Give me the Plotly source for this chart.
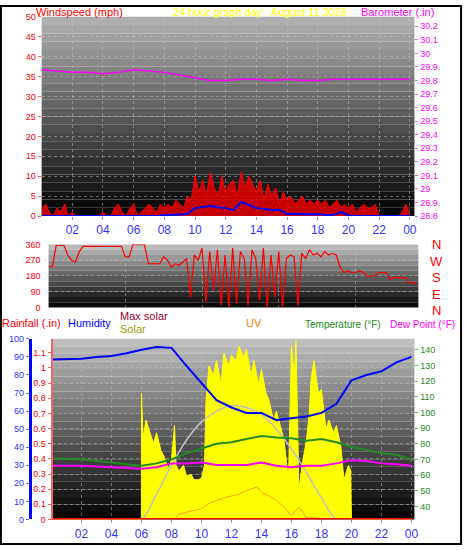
import plotly.graph_objects as go

# ---------------- data ----------------
q_hours = [i / 4 for i in range(97)]
wind_gust = [2,3,1,0, 2,1,3,0, 1,0,0,0, 0,0,0,0, 1,0,0,2, 3,1,0,2, 3,0,1,2, 3,2,1,3,
             2,3,2,4, 3,2,5,4, 10,6,9,5, 11,7,5,10, 6,8,9,5, 11,7,10,8, 6,9,4,8, 5,7,3,6,
             4,5,3,4, 5,3,4,3, 4,3,4,2, 3,4,2,3, 2,3,1,2, 3,2,2,3, 0,0,0,0, 0,0,1,3, 0]
wind_dir = [235,235,355,355, 355,300,270,260, 320,350,350,350, 350,350,350,350,
            350,350,350,350, 290,290,360,360, 360,360,250,250, 250,250,290,270,
            230,250,240,260, 280,60,300,270, 340,30,320,100, 330,10,300,0,
            340,20,320,280, 10,330,280,40, 340,0,300,60, 320,0,280,300,
            290,10,310,280, 330,300,310,290, 320,300,310,300, 230,200,210,200,
            200,210,200,180, 180,180,200,200, 200,160,170,170, 170,170,140,140, 140]

h_hours = [i / 2 for i in range(49)]
wind_avg = [0,0,0,0,0,0,0,0,0,0,0,0,0,0,0,0,0.2,0.3,0.3,0.5,2,2.3,2.5,2.2,2,1.5,3.5,2.8,
            2,1.8,1.5,1.6,0.5,0.6,0.5,0.4,0.5,0.3,0.3,1,0.2,0,0,0,0,0,0,0,0]

hours = list(range(25))
barometer = [29.88,29.87,29.86,29.86,29.85,29.86,29.88,29.87,29.86,29.84,29.82,29.80,29.80,
             29.81,29.81,29.80,29.81,29.80,29.80,29.81,29.81,29.81,29.81,29.81,29.81]
humidity = [88.5,88.8,89,90,90.5,92,94,95.5,95,85,75.5,66,62,59,59,55,56,57,59,64,77,80,82,87,90]
temperature = [70.8,70.4,70,69,68,67,66,67.5,70,74,77,80,81,83,85,84,83.5,82,83,81,78,76,74,73,70]
dew_point = [66,66,66,65.5,65,64.5,64,65,67.5,67.5,68,66.5,66.5,66.5,68,66,65,66,66,67.5,69.5,69,67.5,67,66]
max_solar = [0,0,0,0,0,0,0,14,30,44,54,60,63,62,58,50,39,26,12,0,0,0,0,0,0]
rainfall = [0]*25

solar_hours = [0,5.99,6.0,6.1,6.3,6.5,6.8,7.0,7.3,7.5,7.8,8.0,8.2,8.3,8.5,8.8,9.0,9.3,9.5,9.8,10.0,10.2,10.3,
               10.5,10.8,11.0,11.3,11.5,11.8,12.0,12.3,12.5,12.8,13.0,13.3,13.5,13.8,14.0,14.3,14.5,
               14.8,15.0,15.3,15.5,15.7,15.8,16.0,16.2,16.3,16.5,16.7,17.0,17.2,17.3,17.5,17.8,18.0,
               18.3,18.5,18.8,19.0,19.3,19.5,19.8,19.95,20.0,24]
solar = [0,0,70,45,55,50,42,48,38,35,28,33,52,30,27,30,24,25,22,22,23,30,66,
         85,80,88,75,92,85,91,88,96,90,94,80,88,75,83,70,66,
         55,60,50,44,30,22,96,80,99,16,30,44,60,77,88,70,72,
         50,55,48,52,40,22,30,27,0,0]
uv_hours = [8.2,8.5,9.0,9.5,10.0,10.5,11.0,11.5,12.0,12.5,13.0,13.4,13.7,14.0,14.5,15.0,15.5,16.0,16.5,17.0,17.5,18.0]
uv = [0,3,4,5,6,9,10.5,12,13,14,16,17,18,15,13,10.5,7,2,7,1,1,0]

tick_vals = list(range(2, 25, 2))
tick_text = ["02","04","06","08","10","12","14","16","18","20","22","00"]

# ---------------- figure ----------------
fig = go.Figure()
RED = "#ff0000"
fig.add_trace(go.Scatter(x=q_hours, y=wind_gust, mode="lines", line=dict(color=RED, width=1),
                         fill="tozeroy", fillcolor="rgba(230,0,0,0.85)", xaxis="x", yaxis="y"))
fig.add_trace(go.Scatter(x=h_hours, y=wind_avg, mode="lines", line=dict(color="#0000ff", width=2),
                         xaxis="x", yaxis="y"))
fig.add_trace(go.Scatter(x=hours, y=barometer, mode="lines", line=dict(color="#ff00ff", width=1.5),
                         xaxis="x", yaxis="y2"))
fig.add_trace(go.Scatter(x=q_hours, y=wind_dir, mode="lines", line=dict(color=RED, width=1.2),
                         xaxis="x2", yaxis="y3"))
fig.add_trace(go.Scatter(x=solar_hours, y=solar, mode="lines", line=dict(color="#ffff00", width=1),
                         fill="tozeroy", fillcolor="#ffff00", xaxis="x3", yaxis="y4"))
fig.add_trace(go.Scatter(x=hours, y=max_solar, mode="lines", line=dict(color="#c0c0c0", width=1.5, shape="spline"),
                         xaxis="x3", yaxis="y4"))
fig.add_trace(go.Scatter(x=uv_hours, y=uv, mode="lines", line=dict(color="#ff9900", width=1),
                         xaxis="x3", yaxis="y4"))
fig.add_trace(go.Scatter(x=hours, y=rainfall, mode="lines", line=dict(color=RED, width=3),
                         xaxis="x3", yaxis="y5"))
fig.add_trace(go.Scatter(x=hours, y=temperature, mode="lines", line=dict(color="#228b22", width=2),
                         xaxis="x3", yaxis="y6"))
fig.add_trace(go.Scatter(x=hours, y=dew_point, mode="lines", line=dict(color="#ff00ff", width=2),
                         xaxis="x3", yaxis="y6"))
fig.add_trace(go.Scatter(x=hours, y=humidity, mode="lines", line=dict(color="#0000ff", width=2),
                         xaxis="x3", yaxis="y7"))

FONT = "Liberation Sans"
grid = dict(showgrid=True, gridcolor="rgba(200,200,200,0.45)", griddash="dot", gridwidth=1)
xcommon = dict(tickvals=tick_vals, ticktext=tick_text, tickfont=dict(color="#3333ff", size=12, family=FONT),
               zeroline=False, ticks="outside", ticklen=3, tickcolor="#999", **grid)

D1 = [42/466, 418/466]; D2 = [49/466, 422/466]; D3 = [52/466, 418/466]
P3 = [1-524/550, 1-340/550]
fig.update_layout(
    width=466, height=550, margin=dict(l=0, r=0, t=0, b=0), showlegend=False,
    paper_bgcolor="white", plot_bgcolor="rgba(0,0,0,0)",
    xaxis=dict(domain=D1, range=[0, 24.3], anchor="y", **xcommon),
    yaxis=dict(domain=[1-215/550, 1-12/550], range=[0, 50], dtick=5, tickfont=dict(color=RED, size=9, family=FONT),
               ticks="outside", ticklen=3, tickcolor="#ff6060", zeroline=False, **grid),
    yaxis2=dict(overlaying="y", side="right", anchor="x", range=[28.8, 30.27], dtick=0.1,
                tickfont=dict(color="#ff00ff", size=9, family=FONT), ticks="outside", ticklen=3,
                tickcolor="#ff60ff", showgrid=False, zeroline=False),
    xaxis2=dict(domain=D2, range=[0, 24.1], anchor="y3", showticklabels=False, zeroline=False, **grid),
    yaxis3=dict(domain=[1-308/550, 1-244/550], range=[0, 360], tickvals=[0,90,180,270,360],
                tickfont=dict(color=RED, size=9, family=FONT), zeroline=False, **grid),
    xaxis3=dict(domain=D3, range=[0, 24.2], anchor="y6", **xcommon),
    yaxis4=dict(domain=P3, range=[0, 100], dtick=10, anchor="free", position=30/466,
                tickfont=dict(color="#3333ff", size=9, family=FONT), showline=True, linecolor="#0000ff",
                linewidth=3, ticks="outside", ticklen=3, tickcolor="#6666ff", showgrid=False, zeroline=False),
    yaxis5=dict(overlaying="y4", range=[0, 1.192], dtick=0.1, anchor="free", position=52/466,
                tickfont=dict(color=RED, size=9, family=FONT), showline=True, linecolor="#ff6060",
                linewidth=2, ticks="outside", ticklen=3, tickcolor="#ff6060", zeroline=False, **grid),
    yaxis6=dict(overlaying="y4", side="right", anchor="x3", range=[31.7, 147],
                tickvals=list(range(40, 150, 10)),
                tickfont=dict(color="#228b22", size=9, family=FONT), ticks="outside", ticklen=3,
                tickcolor="#66bb66", showgrid=False, zeroline=False),
    yaxis7=dict(overlaying="y4", range=[0, 100], visible=False),
)

shapes = []
def gradient(xr, yr, top, bottom, n=24):
    for i in range(n):
        f = i / (n - 1)
        g = int(top + (bottom - top) * f)
        shapes.append(dict(type="rect", xref=xr + " domain", yref=yr + " domain", x0=0, x1=1,
                           y0=1 - (i + 1) / n, y1=1 - i / n, fillcolor=f"rgb({g},{g},{g})",
                           line=dict(width=0), layer="below"))
gradient("x", "y", 175, 5)
gradient("x2", "y3", 185, 10, 12)
gradient("x3", "y4", 190, 5)
shapes.append(dict(type="rect", xref="paper", yref="paper", x0=0.002, x1=0.998, y0=0.002, y1=0.998,
                   line=dict(color="black", width=2)))
fig.update_layout(shapes=shapes)

def ann(text, x, y, color, xanchor="left", size=11):
    return dict(text=text, x=x/466, y=1-y/550, xref="paper", yref="paper", showarrow=False,
                xanchor=xanchor, yanchor="middle", font=dict(color=color, size=size, family=FONT))
anns = [
    ann("Windspeed (mph)", 34, 7, RED),
    ann("24 hour graph day : August 11 2026", 172, 7, "#ffff00"),
    ann("Barometer (.in)", 440, 7, "#ff00ff", "right"),
    ann("Rainfall (.in)", 0, 324, RED),
    ann("Humidity", 67, 324, "#0000ff"),
    ann("Max solar", 119, 317, "#990033"),
    ann("Solar", 119, 330, "#999900"),
    ann("UV", 246, 324, "#ff8000"),
    ann("Temperature (°F)", 306, 325, "#228b22", size=10),
    ann("Dew Point (°F)", 391, 325, "#ff00ff", size=10),
]
for lbl, yy in zip(["N", "W", "S", "E", "N"], [244, 261, 278, 295, 311]):
    anns.append(ann(lbl, 440, yy, RED, "center", 13))
fig.update_layout(annotations=anns)

fig.write_html("out.html", config={"displayModeBar": False})
with open("out.html", encoding="utf-8") as f:
    html = f.read()
html = html.replace("<head>", "<head><style>html,body{margin:0;padding:0;overflow:hidden;}</style>", 1)
with open("out.html", "w", encoding="utf-8") as f:
    f.write(html)
